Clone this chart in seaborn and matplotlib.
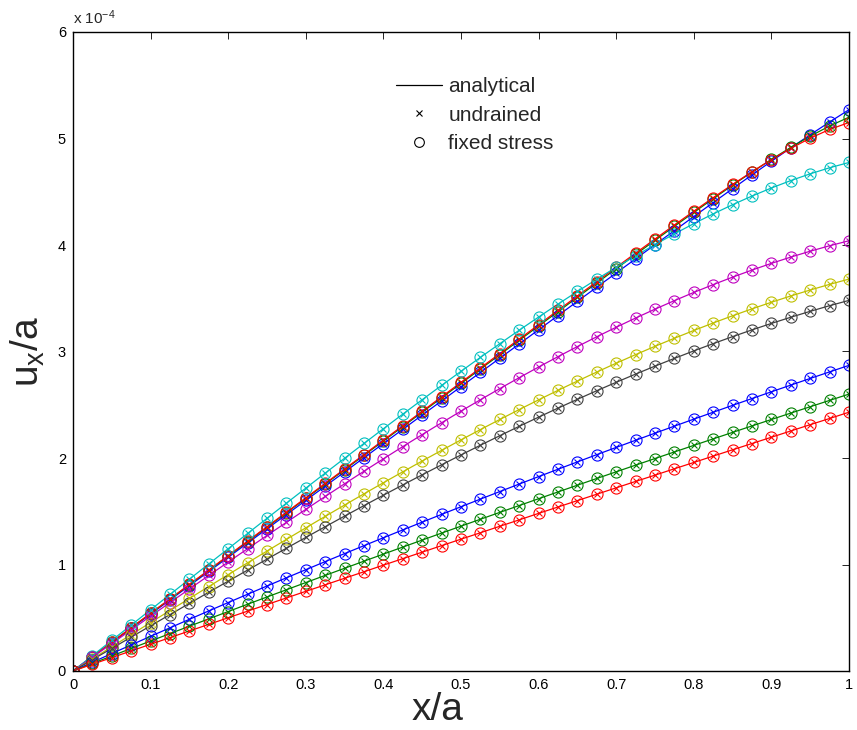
import numpy as np
import pandas as pd
import matplotlib
matplotlib.use("Agg")
import matplotlib.pyplot as plt
from matplotlib.lines import Line2D
import seaborn as sns

# Nodal positions along the sample (x/a)
x_over_a = [0.000, 0.025, 0.050, 0.075, 0.100, 0.125, 0.150, 0.175, 0.200, 0.225,
            0.250, 0.275, 0.300, 0.325, 0.350, 0.375, 0.400, 0.425, 0.450, 0.475,
            0.500, 0.525, 0.550, 0.575, 0.600, 0.625, 0.650, 0.675, 0.700, 0.725,
            0.750, 0.775, 0.800, 0.825, 0.850, 0.875, 0.900, 0.925, 0.950, 0.975,
            1.000]

# Horizontal displacement u_x/a (units of 1e-4) at successive times
ux_t1 = [0, 0.1335, 0.267, 0.4005, 0.534, 0.6675, 0.801, 0.9345, 1.068, 1.2015,
         1.335, 1.4685, 1.602, 1.7355, 1.869, 2.0025, 2.136, 2.2695, 2.403, 2.5365,
         2.67, 2.8035, 2.937, 3.0705, 3.204, 3.3375, 3.471, 3.6039, 3.737, 3.870,
         4.0028, 4.1352, 4.2672, 4.3985, 4.529, 4.6584, 4.7862, 4.912, 5.0352, 5.1548,
         5.27]
ux_t2 = [0, 0.135, 0.27, 0.405, 0.54, 0.675, 0.81, 0.945, 1.08, 1.215,
         1.35, 1.485, 1.62, 1.755, 1.89, 2.025, 2.16, 2.295, 2.43, 2.565,
         2.70, 2.835, 2.97, 3.105, 3.2396, 3.3743, 3.5089, 3.6432, 3.7772, 3.9108,
         4.0437, 4.1756, 4.3063, 4.4351, 4.5616, 4.6847, 4.8035, 4.9164, 5.0219, 5.1174,
         5.20]
ux_t3 = [0, 0.1355, 0.271, 0.4065, 0.542, 0.6775, 0.813, 0.9485, 1.084, 1.2195,
         1.355, 1.4905, 1.626, 1.7615, 1.897, 2.0325, 2.168, 2.3035, 2.439, 2.5745,
         2.71, 2.8455, 2.981, 3.1165, 3.2514, 3.3865, 3.5215, 3.6561, 3.7903, 3.9238,
         4.0564, 4.1878, 4.3174, 4.4447, 4.5686, 4.6881, 4.8017, 4.9074, 5.0031, 5.0852,
         5.15]
ux_t4 = [0, 0.1438, 0.2875, 0.4312, 0.5749, 0.7185, 0.862, 1.0053, 1.1484, 1.2913,
         1.4337, 1.5757, 1.7171, 1.8579, 1.9979, 2.137, 2.275, 2.4119, 2.5475, 2.6816,
         2.8141, 2.9447, 3.0733, 3.1997, 3.3236, 3.445, 3.5635, 3.6789, 3.7909, 3.8994,
         4.004, 4.1045, 4.2006, 4.2921, 4.3785, 4.4597, 4.5353, 4.605, 4.6684, 4.7252,
         4.775]
ux_t5 = [0, 0.129, 0.2579, 0.3865, 0.5149, 0.6428, 0.7702, 0.897, 1.023, 1.1482,
         1.2725, 1.3957, 1.5178, 1.6386, 1.758, 1.8759, 1.9923, 2.107, 2.2199, 2.331,
         2.44, 2.5469, 2.6517, 2.7541, 2.8541, 2.9516, 3.0464, 3.1385, 3.2278, 3.3142,
         3.3975, 3.4777, 3.5546, 3.6281, 3.6982, 3.7647, 3.8275, 3.8866, 3.9417, 3.9929,
         4.04]
ux_t6 = [0, 0.114, 0.2279, 0.3416, 0.4551, 0.5683, 0.681, 0.7933, 0.905, 1.016,
         1.1263, 1.2357, 1.3442, 1.4518, 1.5583, 1.6636, 1.7677, 1.8704, 1.9718, 2.0717,
         2.17, 2.2667, 2.3616, 2.4547, 2.5459, 2.6352, 2.7223, 2.8074, 2.8902, 2.9707,
         3.0488, 3.1244, 3.1974, 3.2679, 3.3356, 3.4005, 3.4625, 3.5215, 3.5775, 3.6304,
         3.68]
ux_t7 = [0, 0.1062, 0.2124, 0.3184, 0.4242, 0.5297, 0.6349, 0.7396, 0.8438, 0.9475,
         1.0505, 1.1527, 1.2542, 1.3548, 1.4545, 1.5531, 1.6507, 1.7471, 1.8423, 1.9362,
         2.0288, 2.1198, 2.2094, 2.2974, 2.3837, 2.4683, 2.551, 2.6319, 2.7109, 2.7878,
         2.8627, 2.9353, 3.0058, 3.0739, 3.1396, 3.2029, 3.2637, 3.3218, 3.3773, 3.4301,
         3.48]
ux_t8 = [0, 0.0822, 0.1639, 0.2451, 0.3257, 0.4058, 0.4853, 0.5643, 0.6428, 0.7207,
         0.7981, 0.875, 0.9513, 1.0271, 1.1023, 1.177, 1.2512, 1.3248, 1.3979, 1.4705,
         1.5425, 1.614, 1.6849, 1.7553, 1.8252, 1.8945, 1.9633, 2.0316, 2.0993, 2.1665,
         2.2331, 2.2992, 2.3648, 2.4298, 2.4943, 2.5583, 2.6217, 2.6846, 2.7469, 2.8087,
         2.87]
ux_t9 = [0, 0.0708, 0.1414, 0.2117, 0.2816, 0.3513, 0.4206, 0.4897, 0.5584, 0.6269,
         0.695, 0.7629, 0.8304, 0.8977, 0.9646, 1.0313, 1.0976, 1.1637, 1.2294, 1.2949,
         1.36, 1.4249, 1.4894, 1.5537, 1.6176, 1.6813, 1.7446, 1.8077, 1.8704, 1.9329,
         1.995, 2.0569, 2.1184, 2.1797, 2.2406, 2.3013, 2.3616, 2.4217, 2.4814, 2.5409,
         2.60]
ux_t10 = [0, 0.063, 0.126, 0.1885, 0.251, 0.3136, 0.376, 0.438, 0.500, 0.562,
          0.624, 0.686, 0.748, 0.809, 0.871, 0.932, 0.994, 1.055, 1.116, 1.177,
          1.238, 1.298, 1.359, 1.419, 1.480, 1.540, 1.600, 1.660, 1.720, 1.780,
          1.839, 1.899, 1.958, 2.018, 2.077, 2.136, 2.195, 2.254, 2.313, 2.371,
          2.43]

curve_names = ["t1", "t2", "t3", "t4", "t5", "t6", "t7", "t8", "t9", "t10"]
curve_values = [ux_t1, ux_t2, ux_t3, ux_t4, ux_t5, ux_t6, ux_t7, ux_t8, ux_t9, ux_t10]
curve_colors = ["#0000ff", "#008000", "#ff0000", "#00bfbf", "#bf00bf",
                "#bfbf00", "#404040", "#0000ff", "#008000", "#ff0000"]

x_ticks = [0, 0.1, 0.2, 0.3, 0.4, 0.5, 0.6, 0.7, 0.8, 0.9, 1.0]
x_tick_labels = ["0", "0.1", "0.2", "0.3", "0.4", "0.5", "0.6", "0.7", "0.8", "0.9", "1"]
y_ticks = [0, 1, 2, 3, 4, 5, 6]
y_tick_labels = ["0", "1", "2", "3", "4", "5", "6"]
legend_labels = ["analytical", "undrained", "fixed stress"]

SCALE = 1e-4

frames = []
for name, vals in zip(curve_names, curve_values):
    frames.append(pd.DataFrame({"x": x_over_a,
                                "ux": np.asarray(vals) * SCALE,
                                "curve": name}))
df = pd.concat(frames, ignore_index=True)
palette = dict(zip(curve_names, curve_colors))

sns.set_theme(style="white")
plt.rcParams["font.family"] = ["Liberation Sans", "DejaVu Sans"]
plt.rcParams["mathtext.fontset"] = "custom"
plt.rcParams["mathtext.rm"] = "Liberation Sans"
plt.rcParams["mathtext.default"] = "regular"

fig = plt.figure(figsize=(8.57, 7.30), dpi=100)
ax = fig.add_axes([73 / 857, 1 - 671 / 730, (849 - 73) / 857, (671 - 32) / 730])

# analytical solution: solid lines
sns.lineplot(data=df, x="x", y="ux", hue="curve", palette=palette,
             estimator=None, sort=False, linewidth=0.9, legend=False, ax=ax)
n_lines = len(ax.lines)
# fixed stress: open circles
sns.lineplot(data=df, x="x", y="ux", hue="curve", palette=palette,
             estimator=None, sort=False, legend=False, ax=ax,
             linestyle="none", marker="o", markersize=8,
             markerfacecolor="none", markeredgewidth=0.8, markeredgecolor="k")
# undrained: crosses
sns.lineplot(data=df, x="x", y="ux", hue="curve", palette=palette,
             estimator=None, sort=False, legend=False, ax=ax,
             linestyle="none", marker="x", markersize=5,
             markeredgewidth=0.8, markeredgecolor="k")
for ln in ax.lines[n_lines:]:
    ln.set_markeredgecolor(ln.get_color())

ax.set_xlim(0, 1)
ax.set_ylim(0, 6 * SCALE)
ax.set_xticks(x_ticks)
ax.set_xticklabels(x_tick_labels)
ax.set_yticks([t * SCALE for t in y_ticks])
ax.set_yticklabels(y_tick_labels)
ax.tick_params(direction="in", top=True, right=True, length=5, width=0.6,
               labelsize=10.5, pad=5, colors="black")
for sp in ax.spines.values():
    sp.set_color("black")
    sp.set_linewidth(1.0)

ax.text(0.0, 1.008, r"x 10$^{-4}$", transform=ax.transAxes,
        ha="left", va="bottom", fontsize=11)

ax.set_xlabel("x/a", fontsize=28)
ax.set_ylabel("u$_x$/a", fontsize=28)
ax.xaxis.set_label_coords((437 - 73) / 776, -0.033)
ax.yaxis.set_label_coords(-0.033, 0.5)

handles = [
    Line2D([], [], color="black", linewidth=0.9),
    Line2D([], [], color="black", linestyle="none", marker="x",
           markersize=4, markeredgewidth=0.8),
    Line2D([], [], color="black", linestyle="none", marker="o",
           markersize=7, markerfacecolor="none", markeredgewidth=0.8),
]
fig.legend(handles, legend_labels, loc="upper left",
           bbox_to_anchor=(386 / 857, 1 - 67 / 730), frameon=False,
           fontsize=15, handlelength=2.2, handletextpad=0.3,
           labelspacing=0.45, borderpad=0)

fig.savefig("out.png", dpi=100)
